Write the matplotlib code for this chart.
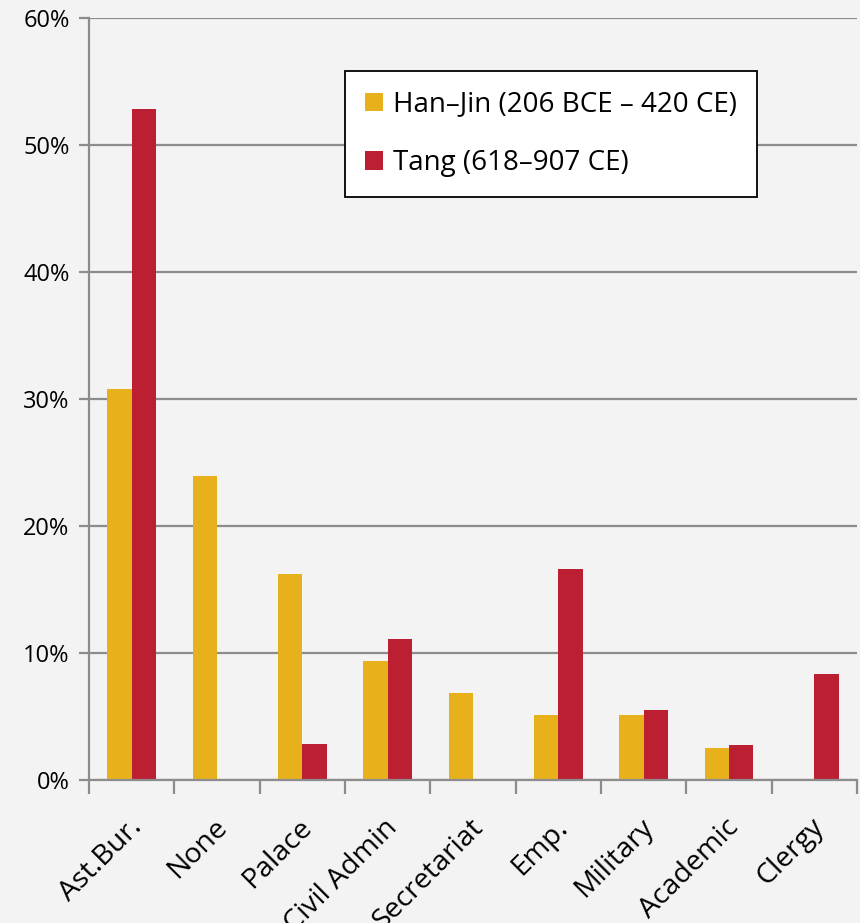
import numpy as np
import matplotlib.pyplot as plt
import matplotlib.transforms as mtransforms
from matplotlib.ticker import FuncFormatter

plt.rcParams['font.family'] = ['Open Sans', 'DejaVu Sans']

categories = ['Ast.Bur.', 'None', 'Palace', 'Civil Admin', 'Secretariat',
              'Emp.', 'Military', 'Academic', 'Clergy']
han_jin = [30.8, 23.9, 16.2, 9.4, 6.85, 5.1, 5.1, 2.5, 0.0]
tang = [52.8, 0.0, 2.8, 11.1, 0.0, 16.6, 5.5, 2.75, 8.35]
series_names = ['Han\u2013Jin (206 BCE \u2013 420 CE)', 'Tang (618\u2013907 CE)']

yellow = '#E8B11C'
red = '#BC1F32'
grid_col = '#8c8c8c'
bg = '#f3f3f3'

fig = plt.figure(figsize=(8.6, 9.23), dpi=100)
fig.patch.set_facecolor(bg)
ax = fig.add_axes([0.1035, 0.155, 0.893, 0.8255])
ax.set_facecolor(bg)

x = np.arange(len(categories))
w = 0.285
ax.bar(x - w/2, han_jin, w, color=yellow, label=series_names[0], zorder=3)
ax.bar(x + w/2, tang, w, color=red, label=series_names[1], zorder=3)

ax.set_xlim(-0.5, len(categories) - 0.5)
ax.set_ylim(0, 60)
ax.set_yticks(range(0, 61, 10))
ax.yaxis.set_major_formatter(FuncFormatter(lambda v, p: '%d%%' % v))
ax.grid(axis='y', color=grid_col, linewidth=1.6, zorder=1)
ax.tick_params(axis='y', length=7, width=1.6, color=grid_col, labelsize=17, pad=7)

ax.set_xticks(x)
ax.set_xticklabels(categories, rotation=45, ha='right', rotation_mode='anchor', fontsize=20.5)
ax.tick_params(axis='x', which='major', length=0, pad=24)
ax.set_xticks(np.arange(len(categories) + 1) - 0.5, minor=True)
ax.tick_params(axis='x', which='minor', length=10, width=1.6, color=grid_col)
shift = mtransforms.ScaledTranslation(-4/100, 0, fig.dpi_scale_trans)
for lbl in ax.get_xticklabels():
    lbl.set_transform(lbl.get_transform() + shift)

for s in ['top', 'right']:
    ax.spines[s].set_visible(False)
for s in ['left', 'bottom']:
    ax.spines[s].set_color(grid_col)
    ax.spines[s].set_linewidth(1.6)
ax.spines['bottom'].set_zorder(4)

leg = ax.legend(loc='upper left', bbox_to_anchor=(0.333, 0.931), fontsize=20,
                frameon=True, fancybox=False, handlelength=0.65, handleheight=0.65,
                handletextpad=0.35, labelspacing=1.1, borderpad=0.72, borderaxespad=0)
leg.get_frame().set_edgecolor('black')
leg.get_frame().set_linewidth(1.3)
leg.get_frame().set_facecolor('white')
leg.get_frame().set_alpha(1)

fig.savefig('out.png', dpi=100, facecolor=bg)
